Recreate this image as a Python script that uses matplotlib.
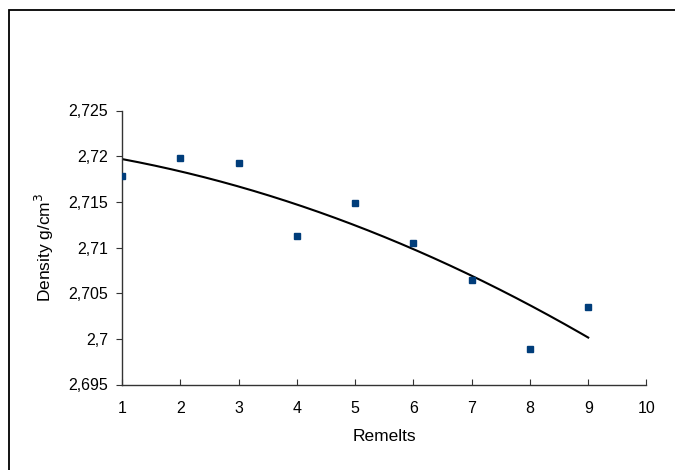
import numpy as np
import matplotlib
matplotlib.use("Agg")
import matplotlib.pyplot as plt
from matplotlib.patches import Rectangle

remelts = [1, 2, 3, 4, 5, 6, 7, 8, 9]
density = [2.71786, 2.71977, 2.71928, 2.71126, 2.71490, 2.71049, 2.70641, 2.69892, 2.70348]
y_ticks = [2.695, 2.7, 2.705, 2.71, 2.715, 2.72, 2.725]
y_tick_labels = ["2,695", "2,7", "2,705", "2,71", "2,715", "2,72", "2,725"]
x_ticks = [1, 2, 3, 4, 5, 6, 7, 8, 9, 10]

plt.rcParams['font.family'] = ['Liberation Sans', 'DejaVu Sans']

fig = plt.figure(figsize=(6.75, 4.7), dpi=100)
ax = fig.add_axes([122/675, 1-384.5/470, (646.5-122)/675, (384.5-110.5)/470])

# outer frame (partially outside the image)
fig.add_artist(Rectangle((9/675, -0.2), 2.0, (470-10)/470 + 0.2, transform=fig.transFigure,
                         fill=False, edgecolor='black', linewidth=1.3))

ax.plot(remelts, density, linestyle='none', marker='s', markersize=4.5,
        color='#003d7a', zorder=3)

# 2nd-order polynomial trendline
coef = np.polyfit(remelts, density, 2)
xs = np.linspace(remelts[0], remelts[-1], 200)
ax.plot(xs, np.polyval(coef, xs), color='black', linewidth=1.5, zorder=2)

ax.set_xlim(1, 10)
ax.set_ylim(2.695, 2.725)
ax.set_xticks(x_ticks)
ax.set_xticklabels([str(v) for v in x_ticks])
ax.set_yticks(y_ticks)
ax.set_yticklabels(y_tick_labels)

for s in ['top', 'right']:
    ax.spines[s].set_visible(False)
for s in ['left', 'bottom']:
    ax.spines[s].set_color('#333333')
    ax.spines[s].set_linewidth(1.0)

ax.tick_params(axis='x', direction='in', length=4, pad=12, labelsize=11.5, color='#333333')
ax.tick_params(axis='y', direction='out', length=4, pad=6, labelsize=11.5, color='#333333')

ax.set_xlabel('Remelts', fontsize=12.5, labelpad=9)
ax.set_ylabel('Density g/cm$^3$', fontsize=12.5, labelpad=9)

fig.savefig('out.png', dpi=100)
